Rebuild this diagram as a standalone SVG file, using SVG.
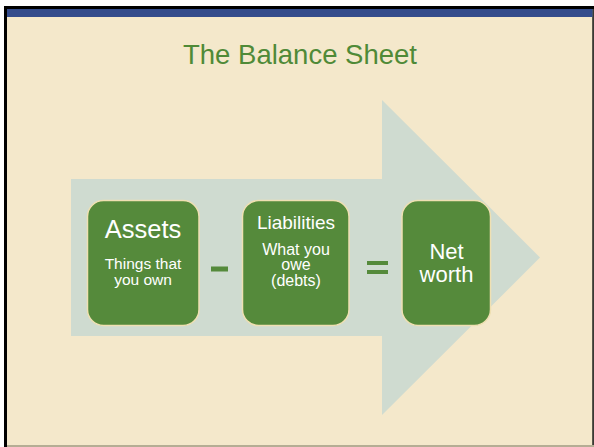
<svg xmlns="http://www.w3.org/2000/svg" width="594" height="447" viewBox="0 0 594 447">
  <style>
    .box { fill: #558a3b; stroke: #efe0b2; stroke-width: 1.5; }
    .lbl { font-family: "Liberation Sans", Arial, sans-serif; fill: #ffffff; text-anchor: middle; }
    .op { fill: #558a3b; }
  </style>
  <!-- page frame -->
  <rect x="0" y="0" width="594" height="447" fill="#ffffff"/>
  <rect x="4" y="6" width="590" height="441" fill="#000000"/>
  <rect x="7" y="9" width="585.5" height="436" fill="#f4e8cb"/>
  <rect x="7" y="445" width="587" height="2" fill="#b5ad94"/>
  <rect x="592.5" y="9" width="1.5" height="436" fill="#3a3a34"/>
  <rect x="7" y="9" width="585.5" height="8" fill="#344c8c"/>

  <!-- title -->
  <text x="300" y="64" font-family="Liberation Sans, Arial, sans-serif" font-size="27.5" fill="#4f8a37" text-anchor="middle">The Balance Sheet</text>

  <!-- background arrow -->
  <polygon points="71,179 382,179 382,100 540,257.5 382,415 382,336 71,336" fill="#cfdbd0"/>

  <!-- nodes -->
  <g id="assets">
    <rect class="box" x="87.5" y="200.5" width="111.5" height="125" rx="16"/>
    <text class="lbl" x="143" y="238" font-size="25.5">Assets</text>
    <text class="lbl" x="143" y="269" font-size="15.5">Things that</text>
    <text class="lbl" x="143" y="284.5" font-size="15.5">you own</text>
  </g>
  <g id="liabilities">
    <rect class="box" x="242.5" y="200.5" width="106.5" height="125" rx="16"/>
    <text class="lbl" x="296" y="229" font-size="19">Liabilities</text>
    <text class="lbl" x="296" y="254.5" font-size="16">What you</text>
    <text class="lbl" x="296" y="270" font-size="16">owe</text>
    <text class="lbl" x="296" y="285.5" font-size="16">(debts)</text>
  </g>
  <g id="net-worth">
    <rect class="box" x="402" y="200.5" width="88.5" height="125" rx="16"/>
    <text class="lbl" x="446.5" y="258.5" font-size="22">Net</text>
    <text class="lbl" x="446.5" y="282" font-size="22">worth</text>
  </g>

  <!-- operators between the nodes -->
  <g id="connectors">
    <rect class="op" x="211" y="266.5" width="17" height="5"/>
    <rect class="op" x="367" y="261" width="21" height="4"/>
    <rect class="op" x="367" y="270" width="21" height="4"/>
  </g>
</svg>
